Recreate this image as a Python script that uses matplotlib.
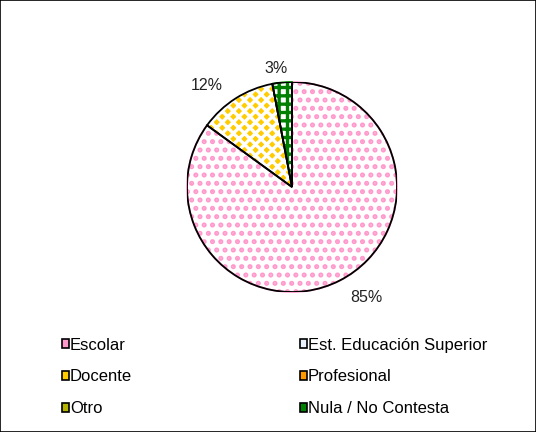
import matplotlib.pyplot as plt
from matplotlib.patches import Patch, Wedge
import numpy as np

plt.rcParams['font.family'] = ['Liberation Sans', 'DejaVu Sans']
plt.rcParams['hatch.linewidth'] = 2.4

categories = ["Escolar", "Est. Educación Superior", "Docente", "Profesional", "Otro", "Nula / No Contesta"]
values = [85, 0, 12, 0, 0, 3]
face_colors = ["white", "#CCE6FF", "#FFCC00", "#FF9900", "#CCCC33", "white"]
hatch_colors = ["#FF99CC", "#99CCFF", "white", "#FFCC66", "#999900", "#008000"]
hatches = ["..", "", "xxx", "", "||", "++"]
legend_colors = ["#FF99CC", "#E8F2FF", "#FFCC00", "#FF9900", "#B3B300", "#008000"]

fig = plt.figure(figsize=(5.36, 4.32), dpi=100)
fig.patches.append(plt.Rectangle((0, 0), 1, 1, transform=fig.transFigure,
                                 fill=False, edgecolor="black", linewidth=1.2))

W, H = 536, 432
cx, cy, r = 292, 187, 105
ax = fig.add_axes([(cx - r) / W, (H - cy - r) / H, 2 * r / W, 2 * r / H])

# draw only non-zero slices, clockwise from the top
idx = [i for i, v in enumerate(values) if v > 0]
wedges, _ = ax.pie([values[i] for i in idx], startangle=90, counterclock=False,
                   radius=1, wedgeprops=dict(linewidth=1.3, edgecolor="black"))
for w, i in zip(wedges, idx):
    w.set_facecolor(face_colors[i])
    w.set_hatch(hatches[i])
    w.set_edgecolor(hatch_colors[i])
    # outline drawn separately so the hatch colour can differ
    ax.add_patch(Wedge(w.center, w.r, w.theta1, w.theta2,
                       fill=False, edgecolor="black", linewidth=1.3))

# percentage labels outside the pie: (distance, angle shift)
label_pos = {0: (1.27, 6.7), 2: (1.26, 7.6), 5: (1.14, 2.3)}
total = sum(values)
for w, i in zip(wedges, idx):
    d, shift = label_pos[i]
    ang = np.deg2rad((w.theta1 + w.theta2) / 2 + shift)
    ax.text(d * np.cos(ang), d * np.sin(ang), f"{values[i] / total * 100:.0f}%",
            ha="center", va="center", fontsize=11.5, color="#222222")

ax.set_xlim(-1, 1)
ax.set_ylim(-1, 1)
ax.axis("off")

# legend is filled row by row in the reference, matplotlib fills by column
order = [0, 2, 4, 1, 3, 5]
handles = [Patch(facecolor=legend_colors[i], edgecolor="black", linewidth=1.2) for i in order]
fig.legend(handles, [categories[i] for i in order], ncol=2, loc="upper left",
           bbox_to_anchor=(55 / W, 1 - 331 / H), frameon=False, fontsize=12,
           handlelength=0.45, handleheight=0.45, handletextpad=0.05,
           columnspacing=10.05, labelspacing=1.0, borderaxespad=0)

fig.savefig("out.png", dpi=100)
